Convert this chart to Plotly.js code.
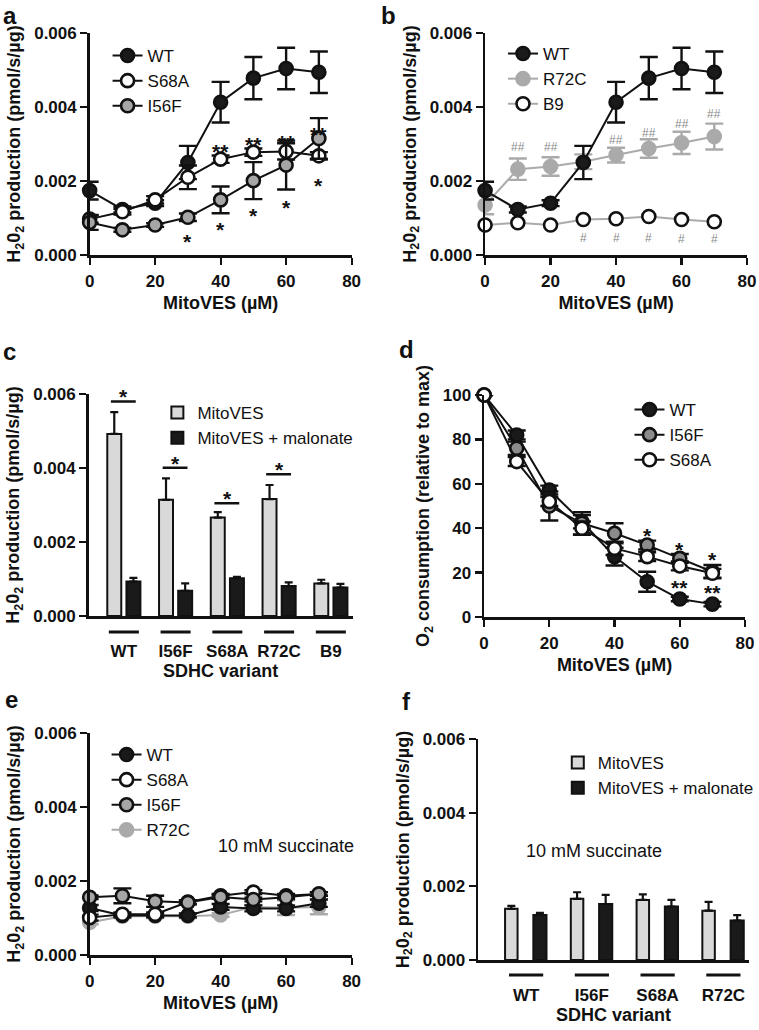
<!DOCTYPE html>
<html><head><meta charset="utf-8">
<script src="https://cdn.plot.ly/plotly-3.0.1.min.js"></script>
<style>html,body{margin:0;padding:0;background:#fff}#chart{width:759px;height:1030px}</style>
</head><body><div id="chart"></div>
<script>
// ---------- DATA ----------
const dose = [0, 10, 20, 30, 40, 50, 60, 70];

// panel a / b (H2O2 production, pmol/s/ug)
const wt = [0.00174, 0.00123, 0.00140, 0.00250, 0.00413, 0.00478, 0.00504, 0.00494];
const wtErr = [0.00024, 0.00008, 0.00008, 0.00045, 0.00055, 0.00057, 0.00056, 0.00056];
const aS68A = [0.00097, 0.00117, 0.00149, 0.00210, 0.00259, 0.00278, 0.00280, 0.00268];
const aS68AErr = [0.00010, 0.00008, 0.00010, 0.00032, 0.00010, 0.00010, 0.00022, 0.00010];
const aI56F = [0.00088, 0.00068, 0.00081, 0.00102, 0.00149, 0.00201, 0.00243, 0.00315];
const aI56FErr = [0.00020, 0.00005, 0.00005, 0.00010, 0.00036, 0.00050, 0.00066, 0.00055];
const bR72C = [0.00135, 0.00232, 0.00239, 0.00252, 0.00270, 0.00288, 0.00303, 0.00320];
const bR72CErr = [0.00025, 0.00029, 0.00025, 0.00020, 0.00020, 0.00025, 0.00030, 0.00035];
const bB9 = [0.00081, 0.00087, 0.00081, 0.00096, 0.00098, 0.00104, 0.00096, 0.00090];

// significance marks (a, b)
const aStarX = [30, 40, 50, 60, 70];
const aStarY = [0.00054, 0.00084, 0.00124, 0.00144, 0.00205];
const aDblX = [40, 50, 60, 70];
const aDblY = [0.00297, 0.00315, 0.00320, 0.00342];
const bHash2X = [10, 20, 40, 50, 60, 70];
const bHash2Y = [0.00295, 0.00295, 0.00313, 0.00333, 0.00358, 0.00384];
const bHashX = [30, 40, 50, 60, 70];
const bHashY = [0.00049, 0.00049, 0.00050, 0.00047, 0.00045];

// panel c
const variantsC = ['WT', 'I56F', 'S68A', 'R72C', 'B9'];
const cMito = [0.00492, 0.00314, 0.00266, 0.00316, 0.00088];
const cMitoErr = [0.00059, 0.00058, 0.00015, 0.00038, 0.00010];
const cMal = [0.00093, 0.00068, 0.00102, 0.00081, 0.00077];
const cMalErr = [0.00010, 0.00020, 0.00004, 0.00010, 0.00010];
const cSigY = [0.00580, 0.00401, 0.00305, 0.00383, null];

// panel d (O2 consumption, relative to max)
const dWT = [100, 82, 57.2, 42.9, 27.2, 15.9, 8.1, 5.8];
const dWTErr = [0, 2, 2, 3, 4, 4.5, 1, 1];
const dI56F = [100, 76, 50, 42.2, 37.7, 32.4, 26.4, 20.4];
const dI56FErr = [0, 3, 6.5, 5, 4.5, 2, 2, 3];
const dS68A = [100, 70, 52, 40, 30.9, 27.2, 23, 19.7];
const dS68AErr = [0, 2, 2, 3, 3, 2, 2, 2];
const dStarX = [50, 60, 70];
const dStarY = [39.5, 32.9, 28.7];
const dDblX = [60, 70];
const dDblY = [16.2, 13.7];

// panel e (10 mM succinate)
const eWT = [0.00127, 0.00107, 0.00107, 0.00107, 0.00130, 0.00126, 0.00126, 0.00140];
const eWTErr = [0.00008, 0.00005, 0.00005, 0.00005, 0.00008, 0.00008, 0.00008, 0.00010];
const eS68A = [0.00101, 0.00110, 0.00110, 0.00143, 0.00160, 0.00170, 0.00160, 0.00165];
const eS68AErr = [0.00008, 0.00005, 0.00005, 0.00005, 0.00005, 0.00005, 0.00005, 0.00005];
const eI56F = [0.00156, 0.00160, 0.00145, 0.00142, 0.00157, 0.00150, 0.00156, 0.00165];
const eI56FErr = [0.00005, 0.00020, 0.00015, 0.00005, 0.00005, 0.00005, 0.00005, 0.00005];
const eR72C = [0.00088, 0.00105, 0.00105, 0.00105, 0.00108, 0.00130, 0.00128, 0.00130];
const eR72CErr = [0.00005, 0.00005, 0.00005, 0.00005, 0.00005, 0.00005, 0.00020, 0.00020];

// panel f
const variantsF = ['WT', 'I56F', 'S68A', 'R72C'];
const fMito = [0.00139, 0.00166, 0.00163, 0.00134];
const fMitoErr = [0.00008, 0.00018, 0.00015, 0.00024];
const fMal = [0.00122, 0.00152, 0.00145, 0.00107];
const fMalErr = [0.00006, 0.00025, 0.00018, 0.00015];

// ---------- HELPERS ----------
const W = 759, H = 1030;
const FONT = 'Liberation Sans, Arial, Helvetica, sans-serif';
const INK = '#111111';
const px = v => v / W;
const py = v => 1 - v / H;
const dx = (a, b) => [px(a), px(b)];
const dy = (top, bottom) => [py(bottom), py(top)];

function ax(extra) {
  return Object.assign({
    showline: true, linecolor: INK, linewidth: 2.5, mirror: false,
    ticks: 'outside', ticklen: 7, tickwidth: 2.2, tickcolor: INK,
    showgrid: false, zeroline: false, fixedrange: true,
    tickfont: { family: FONT, size: 17, weight: 700, color: INK },
  }, extra);
}
const ytitleH2O2 = 'H<sub>2</sub>0<sub>2</sub> production (pmol/s/µg)';
const titleFont = { family: FONT, size: 18, weight: 700, color: INK };

function sc(y, err, name, xa, ya, lg, fill, outline, lineColor, rank) {
  const errColor = (fill === '#aaaaaa') ? '#aaaaaa' : INK;
  return {
    type: 'scatter', mode: 'lines+markers', x: dose, y: y, name: name,
    xaxis: xa, yaxis: ya, legend: lg, legendrank: rank, cliponaxis: false,
    line: { color: lineColor, width: 2 },
    marker: { size: 13, color: fill, line: { color: outline, width: 2.6 } },
    error_y: err ? { type: 'data', array: err, visible: true, color: errColor, thickness: 2.4, width: 9 } : { visible: false },
  };
}
function barTr(x, y, err, name, xa, ya, lg, fill, width, offset) {
  return {
    type: 'bar', x: x, y: y, name: name, xaxis: xa, yaxis: ya, legend: lg,
    width: width, offset: offset,
    marker: { color: fill, line: { color: INK, width: 2 } },
    error_y: { type: 'data', array: err, symmetric: false, arrayminus: err.map(() => 0), color: INK, thickness: 2.2, width: 4 },
  };
}

const data = [
  // panel a
  sc(wt, wtErr, 'WT', 'x', 'y', 'legend', '#1a1a1a', INK, INK, 1),
  sc(aS68A, aS68AErr, 'S68A', 'x', 'y', 'legend', '#ffffff', INK, INK, 2),
  sc(aI56F, aI56FErr, 'I56F', 'x', 'y', 'legend', '#a6a6a6', INK, INK, 3),
  // panel b
  sc(bR72C, bR72CErr, 'R72C', 'x2', 'y2', 'legend2', '#aaaaaa', '#aaaaaa', '#aaaaaa', 2),
  sc(bB9, null, 'B9', 'x2', 'y2', 'legend2', '#ffffff', INK, '#aaaaaa', 3),
  sc(wt, wtErr, 'WT', 'x2', 'y2', 'legend2', '#1a1a1a', INK, INK, 1),
  // panel c
  barTr(variantsC, cMito, cMitoErr, 'MitoVES', 'x3', 'y3', 'legend3', '#d9d9d9', 0.27, -0.32),
  barTr(variantsC, cMal, cMalErr, 'MitoVES + malonate', 'x3', 'y3', 'legend3', '#1a1a1a', 0.27, 0.05),
  // panel d
  sc(dWT, dWTErr, 'WT', 'x4', 'y4', 'legend4', '#1a1a1a', INK, INK, 1),
  sc(dI56F, dI56FErr, 'I56F', 'x4', 'y4', 'legend4', '#8c8c8c', INK, INK, 2),
  sc(dS68A, dS68AErr, 'S68A', 'x4', 'y4', 'legend4', '#ffffff', INK, INK, 3),
  // panel e
  sc(eR72C, eR72CErr, 'R72C', 'x5', 'y5', 'legend5', '#aaaaaa', '#aaaaaa', '#aaaaaa', 4),
  sc(eWT, eWTErr, 'WT', 'x5', 'y5', 'legend5', '#1a1a1a', INK, INK, 1),
  sc(eS68A, eS68AErr, 'S68A', 'x5', 'y5', 'legend5', '#ffffff', INK, INK, 2),
  sc(eI56F, eI56FErr, 'I56F', 'x5', 'y5', 'legend5', '#a6a6a6', INK, INK, 3),
  // panel f
  barTr(variantsF, fMito, fMitoErr, 'MitoVES', 'x6', 'y6', 'legend6', '#d9d9d9', 0.19, -0.32),
  barTr(variantsF, fMal, fMalErr, 'MitoVES + malonate', 'x6', 'y6', 'legend6', '#1a1a1a', 0.2, 0.11),
];

// ---------- ANNOTATIONS ----------
const annotations = [];
function marks(xs, ys, txt, xa, ya, size, color, yshift, bold) {
  xs.forEach((x, i) => annotations.push({
    x: x, y: ys[i], xref: xa, yref: ya, text: txt, showarrow: false,
    xanchor: 'center', yanchor: 'middle', yshift: yshift,
    font: { family: FONT, size: size, color: color, weight: bold ? 700 : 400 },
  }));
}
marks(aStarX, aStarY, '*', 'x', 'y', 21, INK, -6, true);
marks(aDblX, aDblY, '**', 'x', 'y', 21, INK, -6, true);
marks(bHash2X, bHash2Y, '##', 'x2', 'y2', 12, '#8a8a8a', -1, false);
marks(bHashX, bHashY, '#', 'x2', 'y2', 12, '#8a8a8a', -1, false);
marks(dStarX, dStarY, '*', 'x4', 'y4', 21, INK, -6, true);
marks(dDblX, dDblY, '**', 'x4', 'y4', 21, INK, -6, true);

// significance stars over brackets (panel c)
variantsC.forEach((v, i) => {
  if (cSigY[i] !== null) annotations.push({
    x: i, y: cSigY[i], xref: 'x3', yref: 'y3', text: '*', showarrow: false,
    xanchor: 'center', yanchor: 'bottom', yshift: -9,
    font: { family: FONT, size: 21, color: INK, weight: 700 },
  });
});

// panel letters
[['a', 1, 0], ['b', 381, 0], ['c', 1, 336], ['d', 399, 334], ['e', 3, 684], ['f', 402, 686]].forEach(l => {
  annotations.push({ x: px(l[1]), y: py(l[2]), xref: 'paper', yref: 'paper', xanchor: 'left', yanchor: 'top',
    text: '<b>' + l[0] + '</b>', showarrow: false, font: { family: FONT, size: 24, color: INK } });
});
// condition labels
annotations.push({ x: px(287), y: py(858), xref: 'paper', yref: 'paper', text: '10 mM succinate', showarrow: false,
  font: { family: FONT, size: 18, color: INK } });
annotations.push({ x: px(667), y: py(863), xref: 'paper', yref: 'paper', text: '10 mM succinate', showarrow: false,
  font: { family: FONT, size: 18, color: INK } });

// ---------- SHAPES ----------
const shapes = [];
variantsC.forEach((v, i) => {
  shapes.push({ type: 'line', xref: 'x3', yref: 'paper', x0: i - 0.29, x1: i + 0.29, y0: py(632), y1: py(632), line: { color: INK, width: 3 } });
  if (cSigY[i] !== null) shapes.push({ type: 'line', xref: 'x3', yref: 'y3', x0: i - 0.25, x1: i + 0.23, y0: cSigY[i], y1: cSigY[i], line: { color: INK, width: 2.5 } });
});
variantsF.forEach((v, i) => {
  shapes.push({ type: 'line', xref: 'x6', yref: 'paper', x0: i - 0.26, x1: i + 0.26, y0: py(975), y1: py(975), line: { color: INK, width: 3 } });
});

// ---------- LAYOUT ----------
function lg(x, y) {
  return { x: px(x), y: py(y), xanchor: 'left', yanchor: 'top', bgcolor: 'rgba(0,0,0,0)', borderwidth: 0,
    font: { family: FONT, size: 17, color: INK }, traceorder: 'normal', itemwidth: 30, tracegroupgap: 0 };
}
const xTitle = { text: 'MitoVES (µM)', font: titleFont, standoff: 7 };
const layout = {
  width: W, height: H, margin: { l: 0, r: 0, t: 0, b: 0 },
  paper_bgcolor: '#ffffff', plot_bgcolor: 'rgba(0,0,0,0)', showlegend: true,
  font: { family: FONT, color: INK },
  xaxis: ax({ domain: dx(90, 353), anchor: 'y', range: [0, 80], dtick: 20, ticklabelstandoff: 2, title: xTitle }),
  yaxis: ax({ domain: dy(33, 255), anchor: 'x', range: [0, 0.006], dtick: 0.002, tickformat: '.3f', title: { text: ytitleH2O2, font: titleFont, standoff: 9 } }),
  xaxis2: ax({ domain: dx(487, 750), anchor: 'y2', range: [0, 80], dtick: 20, ticklabelstandoff: 2, title: xTitle }),
  yaxis2: ax({ domain: dy(33, 255), anchor: 'x2', range: [0, 0.006], dtick: 0.002, tickformat: '.3f', title: { text: ytitleH2O2, font: titleFont, standoff: 9 } }),
  xaxis3: ax({ domain: dx(89, 354), anchor: 'y3', type: 'category', range: [-0.68, 4.42], ticks: '', ticklabelstandoff: 18, tickfont: { family: FONT, size: 17, weight: 700, color: INK }, title: { text: 'SDHC variant', font: titleFont, standoff: 3 } }),
  yaxis3: ax({ domain: dy(394, 616), anchor: 'x3', range: [0, 0.006], dtick: 0.002, tickformat: '.3f', title: { text: ytitleH2O2, font: titleFont, standoff: 9 } }),
  xaxis4: ax({ domain: dx(486, 748), anchor: 'y4', range: [0, 80], dtick: 20, ticklabelstandoff: 2, title: xTitle }),
  yaxis4: ax({ domain: dy(395, 617), anchor: 'x4', range: [0, 100], dtick: 20, title: { text: 'O<sub>2</sub> consumption (relative to max)', font: titleFont, standoff: 9 } }),
  xaxis5: ax({ domain: dx(90, 353), anchor: 'y5', range: [0, 80], dtick: 20, ticklabelstandoff: 2, title: xTitle }),
  yaxis5: ax({ domain: dy(733, 955), anchor: 'x5', range: [0, 0.006], dtick: 0.002, tickformat: '.3f', title: { text: ytitleH2O2, font: titleFont, standoff: 9 } }),
  xaxis6: ax({ domain: dx(480, 752), anchor: 'y6', type: 'category', range: [-0.73, 3.39], ticks: '', ticklabelstandoff: 18, tickfont: { family: FONT, size: 17, weight: 700, color: INK }, title: { text: 'SDHC variant', font: titleFont, standoff: 3 } }),
  yaxis6: ax({ domain: dy(739, 960), anchor: 'x6', range: [0, 0.006], dtick: 0.002, tickformat: '.3f', title: { text: ytitleH2O2, font: titleFont, standoff: 9 } }),
  legend: lg(108, 38),
  legend2: lg(505, 36),
  legend3: lg(158, 395),
  legend4: lg(632, 392),
  legend5: lg(107, 737),
  legend6: lg(560, 745),
  annotations: annotations,
  shapes: shapes,
};

Plotly.newPlot('chart', data, layout, { staticPlot: true, displayModeBar: false });
</script></body></html>
